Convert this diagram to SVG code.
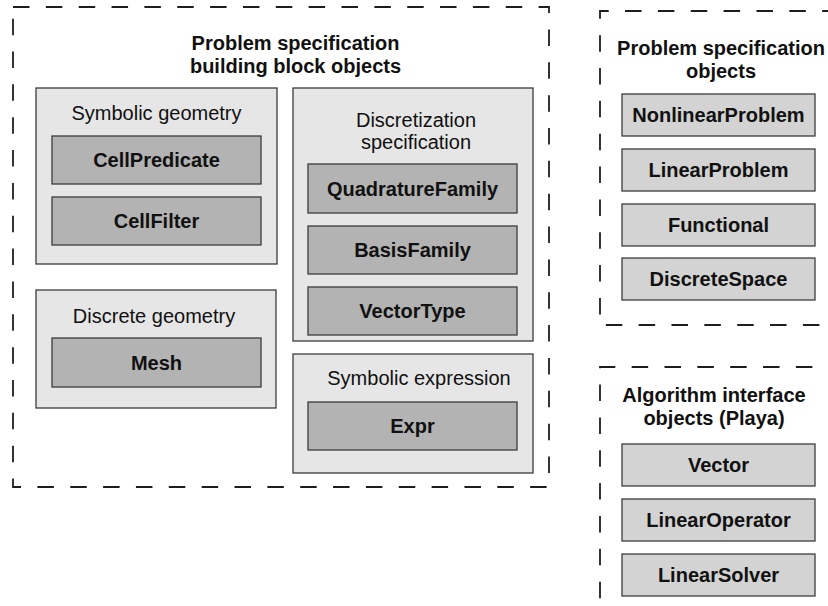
<svg xmlns="http://www.w3.org/2000/svg" width="828" height="606" viewBox="0 0 828 606">
<style>
.bg{fill:#ffffff}
.dash{fill:none;stroke:#1e1e1e;stroke-width:1.8;stroke-dasharray:16.5 16.35}
.grp{fill:#e6e6e6;stroke:#3c3c3c;stroke-width:1.3}
.inner{fill:#b3b3b3;stroke:#3c3c3c;stroke-width:1.3}
.outer{fill:#d3d3d3;stroke:#3c3c3c;stroke-width:1.3}
text{font-family:"Liberation Sans",Arial,sans-serif;font-size:20px;fill:#111;text-anchor:middle}
.b{font-weight:bold}
</style>
<rect class="bg" x="0" y="0" width="828" height="606"/>

<g id="container-building-blocks">
  <rect class="dash" x="13" y="7" width="536" height="480"/>
  <text class="b" x="295.5" y="50">Problem specification</text>
  <text class="b" x="295.5" y="73">building block objects</text>
</g>

<g id="symbolic-geometry">
  <rect class="grp" x="36" y="88" width="241" height="176"/>
  <text x="156.5" y="120">Symbolic geometry</text>
</g>
<g id="CellPredicate">
  <rect class="inner" x="52" y="136" width="209" height="48"/>
  <text class="b" x="156.5" y="167">CellPredicate</text>
</g>
<g id="CellFilter">
  <rect class="inner" x="52" y="197" width="209" height="48"/>
  <text class="b" x="156.5" y="228">CellFilter</text>
</g>

<g id="discrete-geometry">
  <rect class="grp" x="36" y="290" width="240" height="118"/>
  <text x="154" y="323">Discrete geometry</text>
</g>
<g id="Mesh">
  <rect class="inner" x="52" y="338" width="209" height="49"/>
  <text class="b" x="156.5" y="369.5">Mesh</text>
</g>

<g id="discretization-specification">
  <rect class="grp" x="293" y="88" width="240" height="253"/>
  <text x="416" y="127">Discretization</text>
  <text x="416" y="149">specification</text>
</g>
<g id="QuadratureFamily">
  <rect class="inner" x="308" y="164" width="209" height="49"/>
  <text class="b" x="412.5" y="195.5">QuadratureFamily</text>
</g>
<g id="BasisFamily">
  <rect class="inner" x="308" y="226" width="209" height="48"/>
  <text class="b" x="412.5" y="257">BasisFamily</text>
</g>
<g id="VectorType">
  <rect class="inner" x="308" y="287" width="209" height="48"/>
  <text class="b" x="412.5" y="318">VectorType</text>
</g>

<g id="symbolic-expression">
  <rect class="grp" x="293" y="354" width="240" height="119"/>
  <text x="419" y="385">Symbolic expression</text>
</g>
<g id="Expr">
  <rect class="inner" x="308" y="402" width="209" height="48"/>
  <text class="b" x="412.5" y="433">Expr</text>
</g>

<g id="container-problem-specification">
  <path class="dash" d="M850,11 H600 V325 H850" stroke-dashoffset="21.5"/>
  <text class="b" x="721" y="55">Problem specification</text>
  <text class="b" x="721" y="78">objects</text>
</g>
<g id="NonlinearProblem">
  <rect class="outer" x="622" y="94" width="193" height="42"/>
  <text class="b" x="718.5" y="122">NonlinearProblem</text>
</g>
<g id="LinearProblem">
  <rect class="outer" x="622" y="149" width="193" height="42"/>
  <text class="b" x="718.5" y="177">LinearProblem</text>
</g>
<g id="Functional">
  <rect class="outer" x="622" y="204" width="193" height="42"/>
  <text class="b" x="718.5" y="232">Functional</text>
</g>
<g id="DiscreteSpace">
  <rect class="outer" x="622" y="258" width="193" height="42"/>
  <text class="b" x="718.5" y="286">DiscreteSpace</text>
</g>

<g id="container-algorithm-interface">
  <path class="dash" d="M600,620 V367 H850" stroke-dashoffset="11"/>
  <text class="b" x="714" y="402">Algorithm interface</text>
  <text class="b" x="714" y="425">objects (Playa)</text>
</g>
<g id="Vector">
  <rect class="outer" x="622" y="444" width="193" height="42"/>
  <text class="b" x="718.5" y="472">Vector</text>
</g>
<g id="LinearOperator">
  <rect class="outer" x="622" y="499" width="193" height="42"/>
  <text class="b" x="718.5" y="527">LinearOperator</text>
</g>
<g id="LinearSolver">
  <rect class="outer" x="622" y="554" width="193" height="42"/>
  <text class="b" x="718.5" y="582">LinearSolver</text>
</g>
</svg>
